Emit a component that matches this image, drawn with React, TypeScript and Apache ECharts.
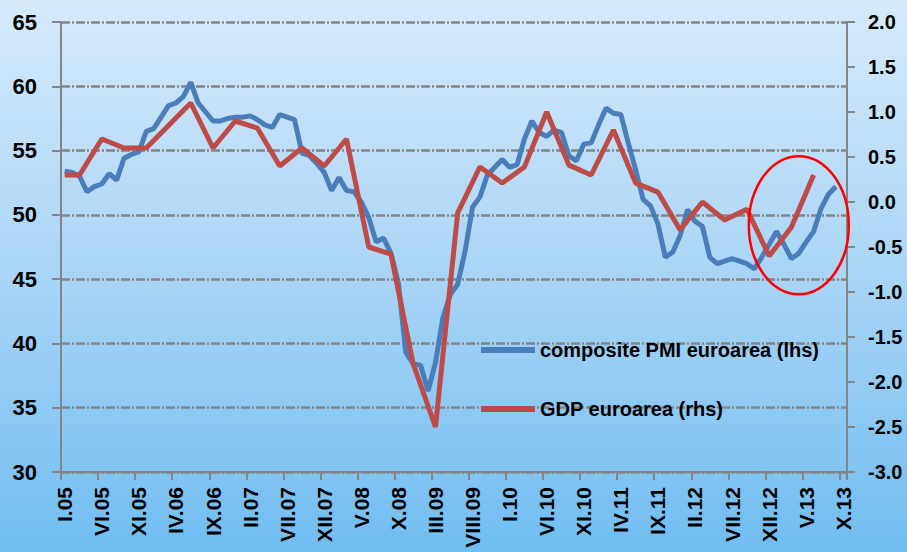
import React, { useEffect, useRef } from "react";
import * as echarts from "echarts";

// Month labels: Roman month numeral + two-digit year, Jan 2005 .. Oct 2013
const romanMonths = ["I", "II", "III", "IV", "V", "VI", "VII", "VIII", "IX", "X", "XI", "XII"];
const startYear = 2005;
const monthCount = 106; // I.05 .. X.13
const categories: string[] = [];
for (let k = 0; k < monthCount; k++) {
  const y = startYear + Math.floor(k / 12);
  const m = k % 12;
  categories.push(romanMonths[m] + "." + String(y % 100).padStart(2, "0"));
}

// Composite PMI euro area, monthly (lhs), Jan 2005 .. Sep 2013
const pmiValues: number[] = [
  53.4, 53.3, 53.0, 51.8, 52.2, 52.4, 53.2, 52.7, 54.4, 54.7,
  54.9, 56.5, 56.7, 57.6, 58.5, 58.7, 59.2, 60.3, 58.7, 58.0,
  57.3, 57.3, 57.5, 57.6, 57.6, 57.7, 57.4, 57.0, 56.8, 57.8,
  57.6, 57.4, 54.8, 54.6, 54.0, 53.3, 51.9, 52.9, 51.9, 51.8,
  51.0, 49.8, 47.9, 48.2, 47.0, 44.7, 39.3, 38.4, 38.3, 36.3,
  38.5, 42.0, 43.8, 44.6, 47.2, 50.6, 51.4, 53.1, 53.7, 54.3,
  53.7, 53.9, 55.9, 57.3, 56.4, 56.1, 56.6, 56.4, 54.6, 54.2,
  55.5, 55.6, 57.0, 58.3, 57.9, 57.8, 55.6, 53.5, 51.2, 50.7,
  49.3, 46.7, 47.1, 48.4, 50.4, 49.5, 49.1, 46.7, 46.2, 46.4,
  46.6, 46.4, 46.2, 45.8, 46.7, 47.7, 48.7, 47.7, 46.6, 47.0,
  47.9, 48.7, 50.5, 51.6, 52.2,
];

// GDP euro area q/q (rhs): first value at Jan 2005, then quarter-end months Mar 2005 .. Jun 2013
const gdpStart = 0.3;
const gdpQuarterly: number[] = [
  0.3, 0.7, 0.6, 0.6, 0.85, 1.1, 0.6, 0.9, 0.82, 0.4,
  0.6, 0.4, 0.7, -0.5, -0.58, -1.8, -2.5, -0.12, 0.39, 0.21,
  0.39, 1.0, 0.41, 0.3, 0.8, 0.21, 0.11, -0.31, 0.0, -0.2,
  -0.08, -0.6, -0.28, 0.3,
];

const leftTicks = { min: 30, max: 65, interval: 5 };
const rightTicks = { min: -3, max: 2, interval: 0.5 };

// Highlight ellipse annotation (data coordinates: category index, lhs value)
const highlightCenter: [number, number] = [99.4, 49.2];
const highlightRadius = { rx: 50, ry: 69 };

const FONT = "'Liberation Sans', Arial, sans-serif";
const GRAY = "#858585";
const BLUE = "#4a7ebb";
const RED = "#be4b48";

export default function App() {
  const ref = useRef<HTMLDivElement>(null);

  useEffect(() => {
    if (!ref.current) return;
    const chart = echarts.init(ref.current, undefined, { renderer: "svg" });

    const pmiSeries: (number | null)[] = categories.map((_, i) =>
      i < pmiValues.length ? pmiValues[i] : null
    );
    const gdpSeries: (number | null)[] = categories.map(() => null);
    gdpSeries[0] = gdpStart;
    gdpQuarterly.forEach((v, q) => {
      gdpSeries[2 + 3 * q] = v;
    });

    chart.setOption({
      animation: false,
      backgroundColor: "transparent",
      grid: { left: 61, right: 60, top: 22, bottom: 80, containLabel: false },
      legend: {
        orient: "vertical",
        left: 476,
        top: 333,
        itemWidth: 54,
        itemHeight: 6,
        itemGap: 35,
        icon: "rect",
        textStyle: {
          fontFamily: FONT,
          fontWeight: "bold",
          fontSize: 20,
          color: "#000",
          lineHeight: 24,
        },
        data: ["composite PMI euroarea (lhs)", "GDP euroarea (rhs)"],
      },
      xAxis: {
        type: "category",
        data: categories,
        boundaryGap: true,
        axisLine: { show: true, onZero: false, lineStyle: { color: GRAY, width: 2 } },
        axisTick: { show: true, interval: 4, length: 8, lineStyle: { color: GRAY, width: 2 } },
        axisLabel: {
          interval: 4,
          rotate: 90,
          margin: 15,
          fontFamily: FONT,
          fontWeight: "bold",
          fontSize: 21,
          color: "#000",
        },
        splitLine: { show: false },
      },
      yAxis: [
        {
          type: "value",
          position: "left",
          min: leftTicks.min,
          max: leftTicks.max,
          interval: leftTicks.interval,
          axisLine: { show: true, lineStyle: { color: GRAY, width: 2 } },
          axisTick: { show: true, length: 9, lineStyle: { color: GRAY, width: 2 } },
          axisLabel: {
            margin: 24,
            fontFamily: FONT,
            fontWeight: "bold",
            fontSize: 22,
            color: "#000",
          },
          splitLine: {
            show: true,
            lineStyle: { color: GRAY, width: 2.5, type: [9, 2, 2, 2] },
          },
        },
        {
          type: "value",
          position: "right",
          min: rightTicks.min,
          max: rightTicks.max,
          interval: rightTicks.interval,
          axisLine: { show: true, onZero: false, lineStyle: { color: GRAY, width: 2 } },
          axisTick: { show: true, length: 8, lineStyle: { color: GRAY, width: 2 } },
          axisLabel: {
            margin: 21,
            fontFamily: FONT,
            fontWeight: "bold",
            fontSize: 20,
            color: "#000",
            formatter: (v: number) => v.toFixed(1),
          },
          splitLine: { show: false },
        },
      ],
      series: [
        {
          name: "composite PMI euroarea (lhs)",
          type: "line",
          yAxisIndex: 0,
          data: pmiSeries,
          symbol: "none",
          showSymbol: false,
          lineStyle: { color: BLUE, width: 5 },
          itemStyle: { color: BLUE },
          z: 2,
        },
        {
          name: "GDP euroarea (rhs)",
          type: "line",
          yAxisIndex: 1,
          data: gdpSeries,
          connectNulls: true,
          symbol: "none",
          showSymbol: false,
          lineStyle: { color: RED, width: 5 },
          itemStyle: { color: RED },
          z: 3,
        },
      ],
    });

    const c = chart.convertToPixel({ xAxisIndex: 0, yAxisIndex: 0 }, highlightCenter) as number[] | undefined;
    if (c && isFinite(c[0]) && isFinite(c[1])) {
      chart.setOption({
        graphic: [
          {
            type: "ellipse",
            shape: { cx: c[0], cy: c[1], rx: highlightRadius.rx, ry: highlightRadius.ry },
            style: { fill: "none", stroke: "#ff0000", lineWidth: 2.5 },
            z: 100,
          },
        ],
      });
    }

    return () => {
      chart.dispose();
    };
  }, []);

  return (
    <div
      ref={ref}
      style={{
        position: "fixed",
        left: 0,
        top: 0,
        width: 907,
        height: 552,
        background: "linear-gradient(to bottom, #d6eafb 0%, #a9d5f6 50%, #70bdf1 100%)",
      }}
    />
  );
}
